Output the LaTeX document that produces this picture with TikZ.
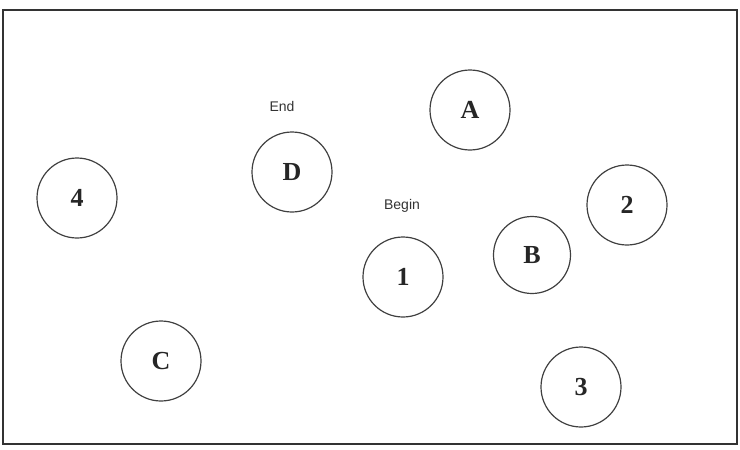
\documentclass[tikz,border=0pt]{standalone}
\usepackage{fontspec}
\setmainfont{Liberation Serif}
\newfontfamily\labelsans{Liberation Sans}
\begin{document}
\begin{tikzpicture}[x=1pt,y=-1pt,
  place/.style={circle,draw=black!75,line width=1.2pt,minimum size=80pt,inner sep=0pt,
    font=\fontsize{26}{26}\selectfont\bfseries,text=black!85},
  tag/.style={font=\labelsans\fontsize{14}{14}\selectfont,text=black!80}]
\useasboundingbox (0,0) rectangle (740,450);
\draw[line width=1.3pt,black!80] (3,10) rectangle (737,444);
\node[place] (A) at (470,110) {A};
\node[place] (D) at (292,172) {D};
\node[place] (n4) at (77,198) {4};
\node[place] (n2) at (627,205) {2};
\node[place,minimum size=77pt] (B) at (532,255) {B};
\node[place] (n1) at (403,277) {1};
\node[place] (C) at (161,361) {C};
\node[place] (n3) at (581,387) {3};
\node[tag] (end) at (282,106) {End};
\node[tag] (begin) at (402,206) {Begin};
\end{tikzpicture}
\end{document}
